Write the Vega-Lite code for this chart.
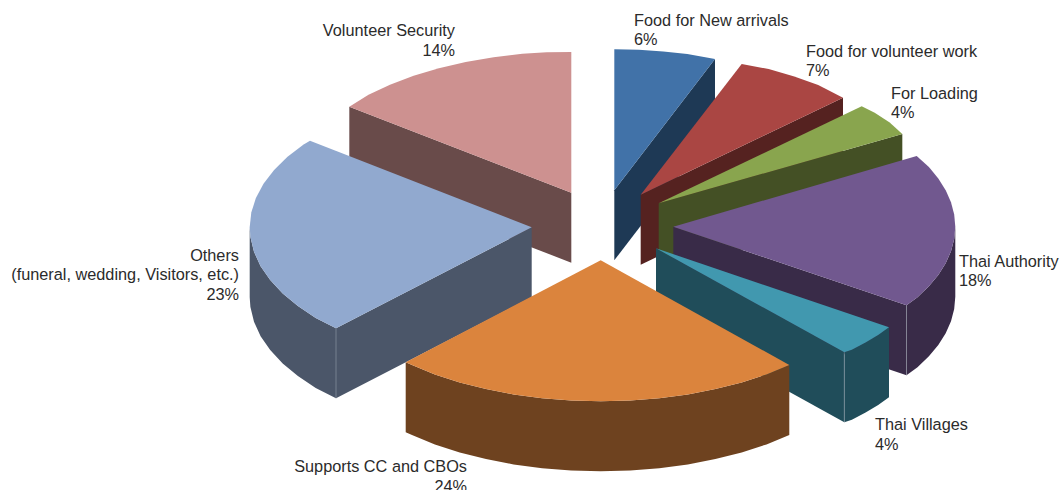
{
"$schema":"https://vega.github.io/schema/vega-lite/v6.json",
"width":1061,"height":490,"padding":0,"autosize":{"type":"none"},
"background":"#ffffff",
"view":{"stroke":null},
"projection":{"type":"identity","scale":1,"translate":[0,0]},
"layer":[
{"data":{"values":[
{"type":"Feature","properties":{"face":"Volunteer Security side","share":14},"geometry":{"type":"Polygon","coordinates":[[[349.3,106.7],[571.3,192.7],[571.3,262.7],[349.3,176.7],[349.3,106.7]]]}},
{"type":"Feature","properties":{"face":"Volunteer Security top","share":14},"geometry":{"type":"Polygon","coordinates":[[[571.3,192.7],[349.3,106.7],[368.5,94.7],[390,84.7],[413.6,75.8],[438.9,68.2],[465.7,62],[493.6,57.2],[522.3,53.8],[546.7,52.2],[571.3,51.9],[571.3,192.7]]]}},
{"type":"Feature","properties":{"face":"Others side","share":23},"geometry":{"type":"Polygon","coordinates":[[[336,328.3],[531.7,227.3],[531.7,297.3],[336,398.3],[336,328.3]]]}},
{"type":"Feature","properties":{"face":"Others side","share":23},"geometry":{"type":"Polygon","coordinates":[[[249.7,227.3],[250.4,237.1],[254,251.8],[260.6,266.2],[270.2,280.1],[282.7,293.5],[297.9,306.1],[315.7,317.9],[336,328.3],[336,398.3],[315.7,387.9],[297.9,376.1],[282.7,363.5],[270.2,350.1],[260.6,336.2],[254,321.8],[250.4,307.1],[249.7,297.3],[249.7,227.3]]]}},
{"type":"Feature","properties":{"face":"Others top","share":23},"geometry":{"type":"Polygon","coordinates":[[[531.7,227.3],[336,328.3],[315.7,317.9],[297.9,306.1],[282.7,293.5],[270.2,280.1],[260.6,266.2],[254,251.8],[250.4,237.1],[249.7,227.3],[251.3,212.6],[255.9,198],[263.5,183.7],[274.1,170],[287.5,156.8],[303.6,144.4],[310,140.7],[531.7,227.3]]]}},
{"type":"Feature","properties":{"face":"Food for New arrivals side","share":6},"geometry":{"type":"Polygon","coordinates":[[[614.3,190.3],[715,59],[715,129],[614.3,260.3],[614.3,190.3]]]}},
{"type":"Feature","properties":{"face":"Food for New arrivals top","share":6},"geometry":{"type":"Polygon","coordinates":[[[614.3,190.3],[614.3,49.3],[638.9,49.8],[663.3,51.4],[687.3,54.1],[715,59],[614.3,190.3]]]}},
{"type":"Feature","properties":{"face":"Food for volunteer work side","share":7},"geometry":{"type":"Polygon","coordinates":[[[640.7,194.7],[843,97.7],[843,167.7],[640.7,264.7],[640.7,194.7]]]}},
{"type":"Feature","properties":{"face":"Food for volunteer work top","share":7},"geometry":{"type":"Polygon","coordinates":[[[640.7,194.7],[741.7,64],[768.7,69.1],[794.3,76.4],[818.2,85.1],[843,97.7],[640.7,194.7]]]}},
{"type":"Feature","properties":{"face":"For Loading side","share":4},"geometry":{"type":"Polygon","coordinates":[[[658.7,203.3],[902.3,134],[902.3,204],[658.7,273.3],[658.7,203.3]]]}},
{"type":"Feature","properties":{"face":"For Loading top","share":4},"geometry":{"type":"Polygon","coordinates":[[[658.7,203.3],[861.7,106.3],[874.7,112.7],[889.7,122.4],[902.3,134],[658.7,203.3]]]}},
{"type":"Feature","properties":{"face":"Thai Authority side","share":18},"geometry":{"type":"Polygon","coordinates":[[[673.3,226.7],[906.5,305.3],[906.5,375.3],[673.3,296.7],[673.3,226.7]]]}},
{"type":"Feature","properties":{"face":"Thai Authority side","share":18},"geometry":{"type":"Polygon","coordinates":[[[955.3,226.7],[954.2,239],[951,251.2],[945.7,263.2],[938.3,274.9],[928.9,286.3],[917.5,297.2],[906.5,305.3],[906.5,375.3],[917.5,367.2],[928.9,356.3],[938.3,344.9],[945.7,333.2],[951,321.2],[954.2,309],[955.3,296.7],[955.3,226.7]]]}},
{"type":"Feature","properties":{"face":"Thai Authority top","share":18},"geometry":{"type":"Polygon","coordinates":[[[673.3,226.7],[916.7,156],[928.9,167.1],[938.3,178.5],[945.7,190.2],[951,202.2],[954.2,214.4],[955.3,226.7],[954.2,239],[951,251.2],[945.7,263.2],[938.3,274.9],[928.9,286.3],[917.5,297.2],[906.5,305.3],[673.3,226.7]]]}},
{"type":"Feature","properties":{"face":"Thai Villages side","share":4},"geometry":{"type":"Polygon","coordinates":[[[656,248.3],[844.3,352.3],[844.3,422.3],[656,318.3],[656,248.3]]]}},
{"type":"Feature","properties":{"face":"Thai Villages side","share":4},"geometry":{"type":"Polygon","coordinates":[[[844.3,352.3],[851.9,349.7],[865.6,342.6],[878.2,335.1],[889,327.3],[889,397.3],[878.2,405.1],[865.6,412.6],[851.9,419.7],[844.3,422.3],[844.3,352.3]]]}},
{"type":"Feature","properties":{"face":"Thai Villages top","share":4},"geometry":{"type":"Polygon","coordinates":[[[656,248.3],[889,327.3],[878.2,335.1],[865.6,342.6],[851.9,349.7],[844.3,352.3],[656,248.3]]]}},
{"type":"Feature","properties":{"face":"Supports CC and CBOs side","share":24},"geometry":{"type":"Polygon","coordinates":[[[789.3,365],[766.5,374.4],[741.7,382.4],[715.4,389.1],[687.8,394.4],[659.3,398.2],[630.2,400.5],[600.7,401.3],[571.2,400.5],[542.1,398.2],[513.6,394.4],[486,389.1],[459.7,382.4],[434.9,374.4],[412,365.1],[405.7,362.3],[405.7,432.3],[412,435.1],[434.9,444.4],[459.7,452.4],[486,459.1],[513.6,464.4],[542.1,468.2],[571.2,470.5],[600.7,471.3],[630.2,470.5],[659.3,468.2],[687.8,464.4],[715.4,459.1],[741.7,452.4],[766.5,444.4],[789.3,435],[789.3,365]]]}},
{"type":"Feature","properties":{"face":"Supports CC and CBOs top","share":24},"geometry":{"type":"Polygon","coordinates":[[[600.7,260.3],[789.3,365],[766.5,374.4],[741.7,382.4],[715.4,389.1],[687.8,394.4],[659.3,398.2],[630.2,400.5],[600.7,401.3],[571.2,400.5],[542.1,398.2],[513.6,394.4],[486,389.1],[459.7,382.4],[434.9,374.4],[412,365.1],[405.7,362.3],[600.7,260.3]]]}}
]},
"mark":{"type":"geoshape","strokeWidth":0},
"encoding":{"fill":{"field":"properties.face","type":"nominal","legend":null,"scale":{
"domain":["Volunteer Security top","Volunteer Security side","Others top","Others side","Food for New arrivals top","Food for New arrivals side","Food for volunteer work top","Food for volunteer work side","For Loading top","For Loading side","Thai Authority top","Thai Authority side","Thai Villages top","Thai Villages side","Supports CC and CBOs top","Supports CC and CBOs side"],
"range":["#CD9190","#694B4A","#91A9CF","#4B5669","#4172A8","#1E3955","#AA4643","#552220","#89A54E","#445025","#71588F","#392B48","#4198AF","#204D5A","#DB843D","#6E421F"]}}}},
{"data":{"values":[
{"type":"Feature","properties":{"slice":"Others"},"geometry":{"type":"LineString","coordinates":[[336,328.3],[336,398.3]]}},
{"type":"Feature","properties":{"slice":"Thai Authority"},"geometry":{"type":"LineString","coordinates":[[906.5,305.3],[906.5,375.3]]}},
{"type":"Feature","properties":{"slice":"Thai Villages"},"geometry":{"type":"LineString","coordinates":[[844.3,352.3],[844.3,422.3]]}}
]},
"mark":{"type":"geoshape","filled":false,"stroke":"#a4acb8","strokeWidth":0.7,"strokeOpacity":0.7}},
{"data":{"values":[
{"label":"Food for New arrivals\n6%","x":634,"y":25.5},
{"label":"Food for volunteer work\n7%","x":806,"y":56.5},
{"label":"For Loading\n4%","x":891,"y":98.5},
{"label":"Thai Authority\n18%","x":959,"y":266.5},
{"label":"Thai Villages\n4%","x":875,"y":430}
]},
"mark":{"type":"text","align":"left","baseline":"alphabetic","font":"Liberation Sans","fontSize":16.3,"lineBreak":"\n","lineHeight":19.7,"color":"#2b2b2b"},
"encoding":{"longitude":{"field":"x","type":"quantitative"},"latitude":{"field":"y","type":"quantitative"},"text":{"field":"label"}}},
{"data":{"values":[
{"label":"Volunteer Security\n14%","x":455,"y":36},
{"label":"Others\n(funeral, wedding, Visitors, etc.)\n23%","x":239,"y":260.5},
{"label":"Supports CC and CBOs\n24%","x":467,"y":472}
]},
"mark":{"type":"text","align":"right","baseline":"alphabetic","font":"Liberation Sans","fontSize":16.3,"lineBreak":"\n","lineHeight":19.7,"color":"#2b2b2b"},
"encoding":{"longitude":{"field":"x","type":"quantitative"},"latitude":{"field":"y","type":"quantitative"},"text":{"field":"label"}}}
]
}
